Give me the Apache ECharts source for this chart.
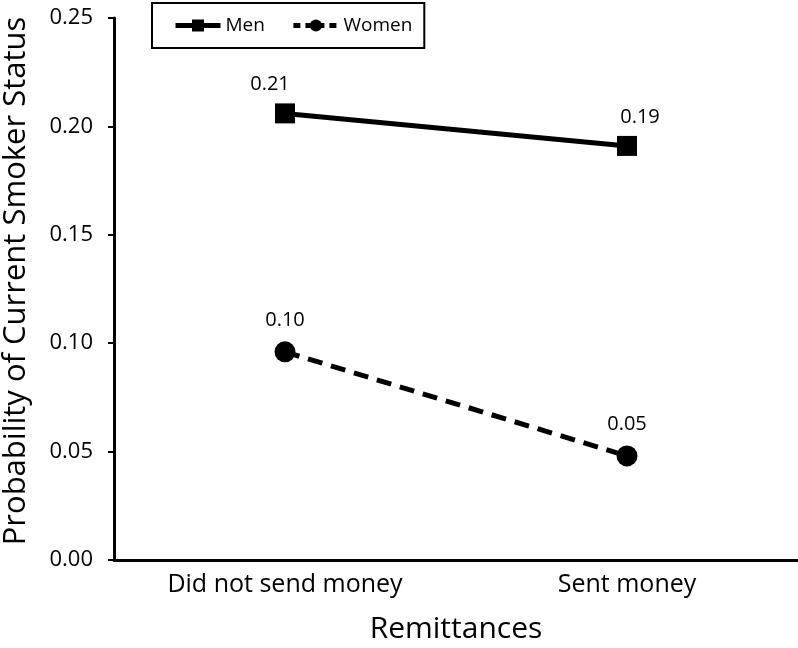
<!DOCTYPE html>
<html>
<head>
<meta charset="utf-8">
<script src="https://cdn.jsdelivr.net/npm/echarts@6/dist/echarts.min.js"></script>
<style>
  html, body { margin: 0; padding: 0; background: #fff; }
  #main { width: 798px; height: 648px; }
</style>
</head>
<body>
<div id="main"></div>
<script>
var categories = ["Did not send money", "Sent money"];
var menValues = [0.206, 0.191];
var womenValues = [0.096, 0.048];
var yTicks = [0, 0.05, 0.10, 0.15, 0.20, 0.25];

var font = "Open Sans";

// men labels sit a little off-centre in the original
var menLabelShift = [-15, 13];

var myChart = echarts.init(document.getElementById("main"));
myChart.setOption({
  animation: false,
  textStyle: { fontFamily: font, color: "#000" },
  legend: {
    left: 152,
    top: 3,
    padding: [13, 12, 13, 21],
    borderColor: "#000",
    borderWidth: 2,
    itemWidth: 45,
    itemHeight: 15,
    itemGap: 26,
    lineStyle: { width: 5 },
    textStyle: { fontFamily: font, fontSize: 19, color: "#000" },
    data: [
      { name: "Men" },
      { name: "Women", lineStyle: { type: [7, 5] } }
    ]
  },
  grid: { left: 114, right: 0, top: 18, bottom: 88, outerBoundsMode: "none" },
  xAxis: {
    type: "category",
    data: categories,
    name: "Remittances",
    nameLocation: "middle",
    nameGap: 54,
    nameTextStyle: { fontFamily: font, fontSize: 30, color: "#000" },
    axisLine: { lineStyle: { color: "#000", width: 3 } },
    axisTick: { show: false },
    axisLabel: { fontFamily: font, fontSize: 25, color: "#000", margin: 12 }
  },
  yAxis: {
    type: "value",
    min: yTicks[0],
    max: yTicks[yTicks.length - 1],
    interval: 0.05,
    name: "Probability of Current Smoker Status",
    nameLocation: "middle",
    nameGap: 82,
    nameTextStyle: { fontFamily: font, fontSize: 31, color: "#000", padding: [0, 0, 0, 16] },
    axisLine: { show: true, lineStyle: { color: "#000", width: 3 } },
    axisTick: { show: true, length: 6, lineStyle: { color: "#000", width: 2 } },
    axisLabel: {
      fontFamily: font, fontSize: 22, color: "#000", margin: 21,
      formatter: function (v) { return v.toFixed(2); }
    },
    splitLine: { show: false }
  },
  series: [
    {
      name: "Men",
      type: "line",
      data: menValues.map(function (v, i) {
        return { value: v, label: { offset: [menLabelShift[i], 0] } };
      }),
      symbol: "rect",
      symbolSize: 20,
      itemStyle: { color: "#000" },
      lineStyle: { color: "#000", width: 5 },
      label: {
        show: true, position: "top", distance: 9,
        fontFamily: font, fontSize: 20, color: "#000",
        formatter: function (p) { return p.value.toFixed(2); }
      }
    },
    {
      name: "Women",
      type: "line",
      data: womenValues,
      symbol: "circle",
      symbolSize: 21,
      itemStyle: { color: "#000" },
      lineStyle: { color: "#000", width: 5, type: [15, 9] },
      label: {
        show: true, position: "top", distance: 11,
        fontFamily: font, fontSize: 20, color: "#000",
        formatter: function (p) { return p.value.toFixed(2); }
      }
    }
  ]
});
</script>
</body>
</html>
